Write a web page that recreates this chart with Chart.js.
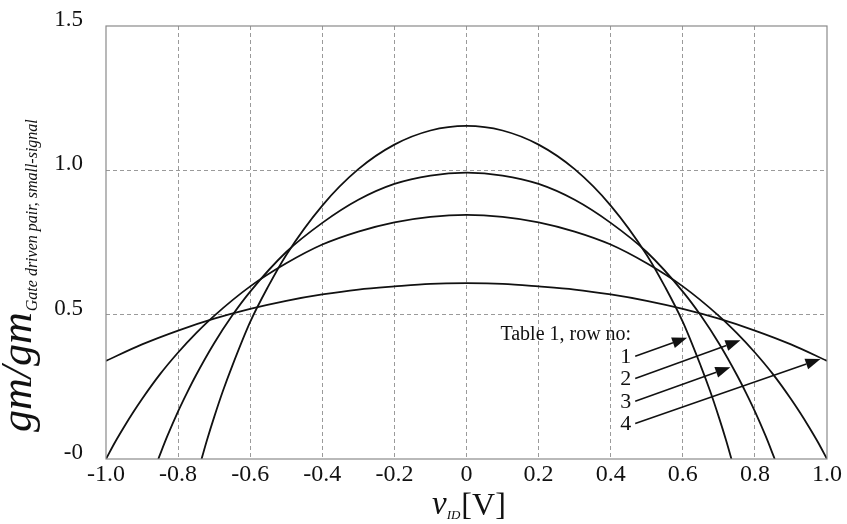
<!DOCTYPE html>
<html>
<head>
<meta charset="utf-8">
<script src="https://cdn.jsdelivr.net/npm/chart.js@4.4.0/dist/chart.umd.min.js"></script>
<style>
  body { margin: 0; background: #fff; }
  #wrap { width: 847px; height: 524px; position: relative; }
</style>
</head>
<body>
<div id="wrap"><canvas id="gmChart"></canvas></div>
<script>
// v_ID [V] and normalised gm, one pair of arrays per Table 1 row
const vid1 = [-0.735, -0.72, -0.7, -0.675, -0.65, -0.6, -0.55, -0.5, -0.4, -0.3, -0.2, -0.1, 0, 0.1, 0.2, 0.3, 0.4, 0.5, 0.55, 0.6, 0.65, 0.675, 0.7, 0.72, 0.735];
const gm1 = [0, 0.065, 0.145, 0.238, 0.322, 0.475, 0.598, 0.707, 0.878, 1.004, 1.089, 1.138, 1.154, 1.138, 1.089, 1.004, 0.878, 0.707, 0.598, 0.475, 0.322, 0.238, 0.145, 0.065, 0];

const vid2 = [-0.855, -0.83, -0.8, -0.775, -0.75, -0.7, -0.65, -0.6, -0.5, -0.4, -0.3, -0.2, -0.1, 0, 0.1, 0.2, 0.3, 0.4, 0.5, 0.6, 0.65, 0.7, 0.75, 0.775, 0.8, 0.83, 0.855];
const gm2 = [0, 0.079, 0.165, 0.23, 0.291, 0.401, 0.497, 0.58, 0.717, 0.818, 0.898, 0.953, 0.982, 0.992, 0.982, 0.953, 0.898, 0.818, 0.717, 0.58, 0.497, 0.401, 0.291, 0.23, 0.165, 0.079, 0];

const vid3 = [-1.0, -0.975, -0.95, -0.925, -0.9, -0.85, -0.8, -0.75, -0.7, -0.6, -0.5, -0.4, -0.3, -0.2, -0.1, 0, 0.1, 0.2, 0.3, 0.4, 0.5, 0.6, 0.7, 0.75, 0.8, 0.85, 0.9, 0.925, 0.95, 0.975, 1.0];
const gm3 = [0, 0.058, 0.111, 0.161, 0.208, 0.294, 0.369, 0.436, 0.496, 0.598, 0.678, 0.743, 0.788, 0.82, 0.839, 0.846, 0.839, 0.82, 0.788, 0.743, 0.678, 0.598, 0.496, 0.436, 0.369, 0.294, 0.208, 0.161, 0.111, 0.058, 0];

const vid4 = [-1.0, -0.9, -0.8, -0.7, -0.6, -0.5, -0.4, -0.3, -0.2, -0.1, 0, 0.1, 0.2, 0.3, 0.4, 0.5, 0.6, 0.7, 0.8, 0.9, 1.0];
const gm4 = [0.34, 0.397, 0.445, 0.486, 0.52, 0.548, 0.57, 0.587, 0.598, 0.607, 0.609, 0.607, 0.598, 0.587, 0.57, 0.548, 0.52, 0.486, 0.445, 0.397, 0.34];

const rowNos = ['1', '2', '3', '4'];
const xTickLabels = ['-1.0', '-0.8', '-0.6', '-0.4', '-0.2', '0', '0.2', '0.4', '0.6', '0.8', '1.0'];
const yTickLabels = ['-0', '0.5', '1.0', '1.5'];

const SERIF = '"Liberation Serif", "DejaVu Serif", serif';

function toPoints(xs, ys) {
  return xs.map((x, i) => ({ x: x, y: ys[i] }));
}

function curve(xs, ys, name) {
  return {
    label: name,
    data: toPoints(xs, ys),
    borderColor: '#111',
    borderWidth: 1.8,
    pointRadius: 0,
    fill: false,
    cubicInterpolationMode: 'monotone'
  };
}

// "Table 1, row no:" callout, arrows given in data units (v_ID, gm)
const arrowFrom = [[0.468, 0.356], [0.468, 0.279], [0.468, 0.200], [0.468, 0.123]];
const arrowTo = [[0.612, 0.420], [0.760, 0.411], [0.732, 0.318], [0.982, 0.346]];

const extras = {
  id: 'extras',
  afterDraw(chart) {
    const ctx = chart.ctx;
    const a = chart.chartArea;
    const xs = chart.scales.x, ys = chart.scales.y;
    ctx.save();

    // plot frame
    ctx.strokeStyle = '#8a8a8a';
    ctx.lineWidth = 1.2;
    ctx.strokeRect(a.left, a.top, a.right - a.left, a.bottom - a.top);

    // callout text
    ctx.fillStyle = '#111';
    ctx.font = '20px ' + SERIF;
    ctx.textBaseline = 'middle';
    ctx.textAlign = 'left';
    ctx.fillText('Table 1, row no:', xs.getPixelForValue(0.094), ys.getPixelForValue(0.431));

    ctx.font = '22px ' + SERIF;
    ctx.textAlign = 'right';
    rowNos.forEach((n, i) => {
      ctx.fillText(n, xs.getPixelForValue(0.457), ys.getPixelForValue(arrowFrom[i][1]) + 1);
    });

    // arrows
    ctx.strokeStyle = '#111';
    ctx.lineWidth = 1.5;
    arrowFrom.forEach((f, i) => {
      const x0 = xs.getPixelForValue(f[0]), y0 = ys.getPixelForValue(f[1]);
      const x1 = xs.getPixelForValue(arrowTo[i][0]), y1 = ys.getPixelForValue(arrowTo[i][1]);
      const ang = Math.atan2(y1 - y0, x1 - x0);
      const len = 15, half = 5.5;
      const bx = x1 - len * Math.cos(ang), by = y1 - len * Math.sin(ang);
      ctx.beginPath();
      ctx.moveTo(x0, y0);
      ctx.lineTo(bx, by);
      ctx.stroke();
      ctx.beginPath();
      ctx.moveTo(x1, y1);
      ctx.lineTo(bx + half * Math.sin(ang), by - half * Math.cos(ang));
      ctx.lineTo(bx - half * Math.sin(ang), by + half * Math.cos(ang));
      ctx.closePath();
      ctx.fill();
    });

    // y title: gm/gm with subscript, rotated
    ctx.save();
    ctx.translate(31, 432);
    ctx.rotate(-Math.PI / 2);
    ctx.textAlign = 'left';
    ctx.textBaseline = 'alphabetic';
    ctx.font = 'italic 44px ' + SERIF;
    ctx.fillText('gm/gm', 0, 0);
    const w = ctx.measureText('gm/gm').width;
    ctx.font = 'italic 16px ' + SERIF;
    ctx.fillText('Gate driven pair, small-signal', w + 1, 6);
    ctx.restore();

    // x title: v_ID [V]
    ctx.textAlign = 'left';
    ctx.textBaseline = 'alphabetic';
    ctx.font = 'italic 33px ' + SERIF;
    let px = 432;
    ctx.fillText('v', px, 514);
    px += ctx.measureText('v').width;
    ctx.font = 'italic 13px ' + SERIF;
    ctx.fillText('ID', px, 519);
    px += ctx.measureText('ID').width + 1;
    ctx.font = '32px ' + SERIF;
    ctx.fillText('[V]', px, 515);

    ctx.restore();
  }
};

const gridColor = (ctx, edges) => edges.includes(ctx.tick.value) ? 'rgba(0,0,0,0)' : '#9a9a9a';

new Chart(document.getElementById('gmChart'), {
  type: 'line',
  data: {
    datasets: [
      curve(vid1, gm1, 'row 1'),
      curve(vid2, gm2, 'row 2'),
      curve(vid3, gm3, 'row 3'),
      curve(vid4, gm4, 'row 4')
    ]
  },
  options: {
    responsive: true,
    maintainAspectRatio: false,
    animation: false,
    layout: { padding: { left: 0, right: 20, top: 26, bottom: 0 } },
    plugins: { legend: { display: false }, tooltip: { enabled: false } },
    scales: {
      x: {
        type: 'linear',
        min: -1,
        max: 1,
        afterFit(scale) { scale.height = 65; scale.paddingLeft = 0; scale.paddingRight = 0; },
        ticks: {
          stepSize: 0.2,
          padding: 1,
          color: '#111',
          font: { family: SERIF, size: 24 },
          maxRotation: 0,
          callback: (v, i) => xTickLabels[i]
        },
        grid: {
          drawTicks: false,
          color: c => gridColor(c, [-1, 1]),
          lineWidth: 1
        },
        border: { display: false, dash: [4, 3] }
      },
      y: {
        min: 0,
        max: 1.5,
        afterFit(scale) { scale.width = 106; scale.paddingTop = 0; scale.paddingBottom = 0; },
        ticks: {
          stepSize: 0.5,
          padding: 23,
          labelOffset: -6,
          color: '#111',
          font: { family: SERIF, size: 23 },
          callback: (v, i) => yTickLabels[i]
        },
        grid: {
          drawTicks: false,
          color: c => gridColor(c, [0, 1.5]),
          lineWidth: 1
        },
        border: { display: false, dash: [4, 3] }
      }
    }
  },
  plugins: [extras]
});
</script>
</body>
</html>
